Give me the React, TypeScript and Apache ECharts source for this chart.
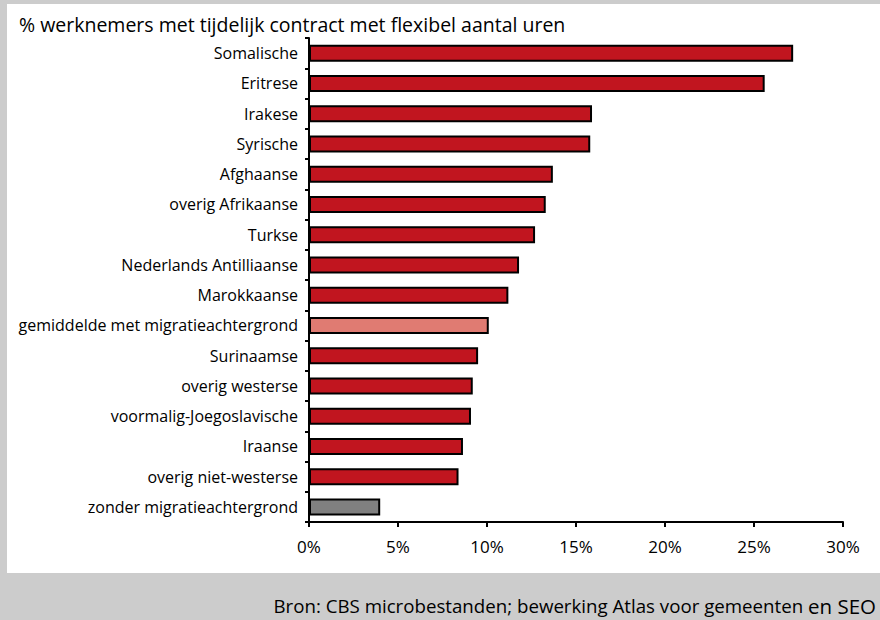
import React, { useEffect, useRef } from "react";
import * as echarts from "echarts";

const categories = [
  "Somalische",
  "Eritrese",
  "Irakese",
  "Syrische",
  "Afghaanse",
  "overig Afrikaanse",
  "Turkse",
  "Nederlands Antilliaanse",
  "Marokkaanse",
  "gemiddelde met migratieachtergrond",
  "Surinaamse",
  "overig westerse",
  "voormalig-Joegoslavische",
  "Iraanse",
  "overig niet-westerse",
  "zonder migratieachtergrond",
];
const values = [27.2, 25.6, 15.9, 15.8, 13.7, 13.3, 12.7, 11.8, 11.2, 10.1, 9.5, 9.2, 9.1, 8.65, 8.4, 4.0];
const barColors = [
  "#c1151f", "#c1151f", "#c1151f", "#c1151f", "#c1151f", "#c1151f", "#c1151f", "#c1151f",
  "#c1151f", "#e07b72", "#c1151f", "#c1151f", "#c1151f", "#c1151f", "#c1151f", "#808080",
];
const subtitle = "% werknemers met tijdelijk contract met flexibel aantal uren";
const source = "Bron: CBS microbestanden; bewerking Atlas voor gemeenten ";
const sourceEnd = "en SEO";

const FONT = "'Open Sans', 'Noto Sans', sans-serif";

export default function App() {
  const ref = useRef<HTMLDivElement>(null);
  useEffect(() => {
    document.body.style.margin = "0";
    const chart = echarts.init(ref.current!, null, { renderer: "svg" });
    chart.setOption({
      animation: false,
      backgroundColor: "#cccccc",
      graphic: [
        { type: "rect", left: 7, top: 4, shape: { width: 873, height: 569 }, style: { fill: "#ffffff" }, z: -10 },
        {
          type: "text",
          left: 19,
          top: 14,
          style: { text: subtitle, fontFamily: FONT, fontSize: 19.5, fill: "#000" },
        },
        {
          type: "text",
          right: 4,
          top: 595,
          style: {
            text: "{a|" + source + "}{b|" + sourceEnd + "}",
            rich: {
              a: { fontFamily: FONT, fontSize: 18.7, fill: "#000" },
              b: { fontFamily: FONT, fontSize: 20.5, fill: "#000" },
            },
          },
        },
      ],
      grid: { left: 309, right: 37, top: 38, bottom: 98, containLabel: false },
      xAxis: {
        type: "value",
        min: 0,
        max: 30,
        interval: 5,
        axisLine: { show: true, lineStyle: { color: "#000", width: 2 } },
        axisTick: { show: true, length: 5, lineStyle: { color: "#000", width: 2 } },
        splitLine: { show: false },
        axisLabel: {
          formatter: (v: number) => v + "%",
          fontFamily: FONT,
          fontSize: 17,
          color: "#000",
          margin: 16,
        },
      },
      yAxis: {
        type: "category",
        data: categories,
        inverse: true,
        axisLine: { show: true, lineStyle: { color: "#000", width: 2 } },
        axisTick: { show: true, length: 4, lineStyle: { color: "#000", width: 2 } },
        axisLabel: { fontFamily: FONT, fontSize: 16, color: "#000", margin: 11 },
      },
      series: [
        {
          type: "bar",
          data: values.map((v, i) => ({ value: v, itemStyle: { color: barColors[i] } })),
          barWidth: 17,
          itemStyle: { borderColor: "#000", borderWidth: 2 },
        },
      ],
    });
    return () => chart.dispose();
  }, []);
  return <div ref={ref} style={{ width: 880, height: 620 }} />;
}
